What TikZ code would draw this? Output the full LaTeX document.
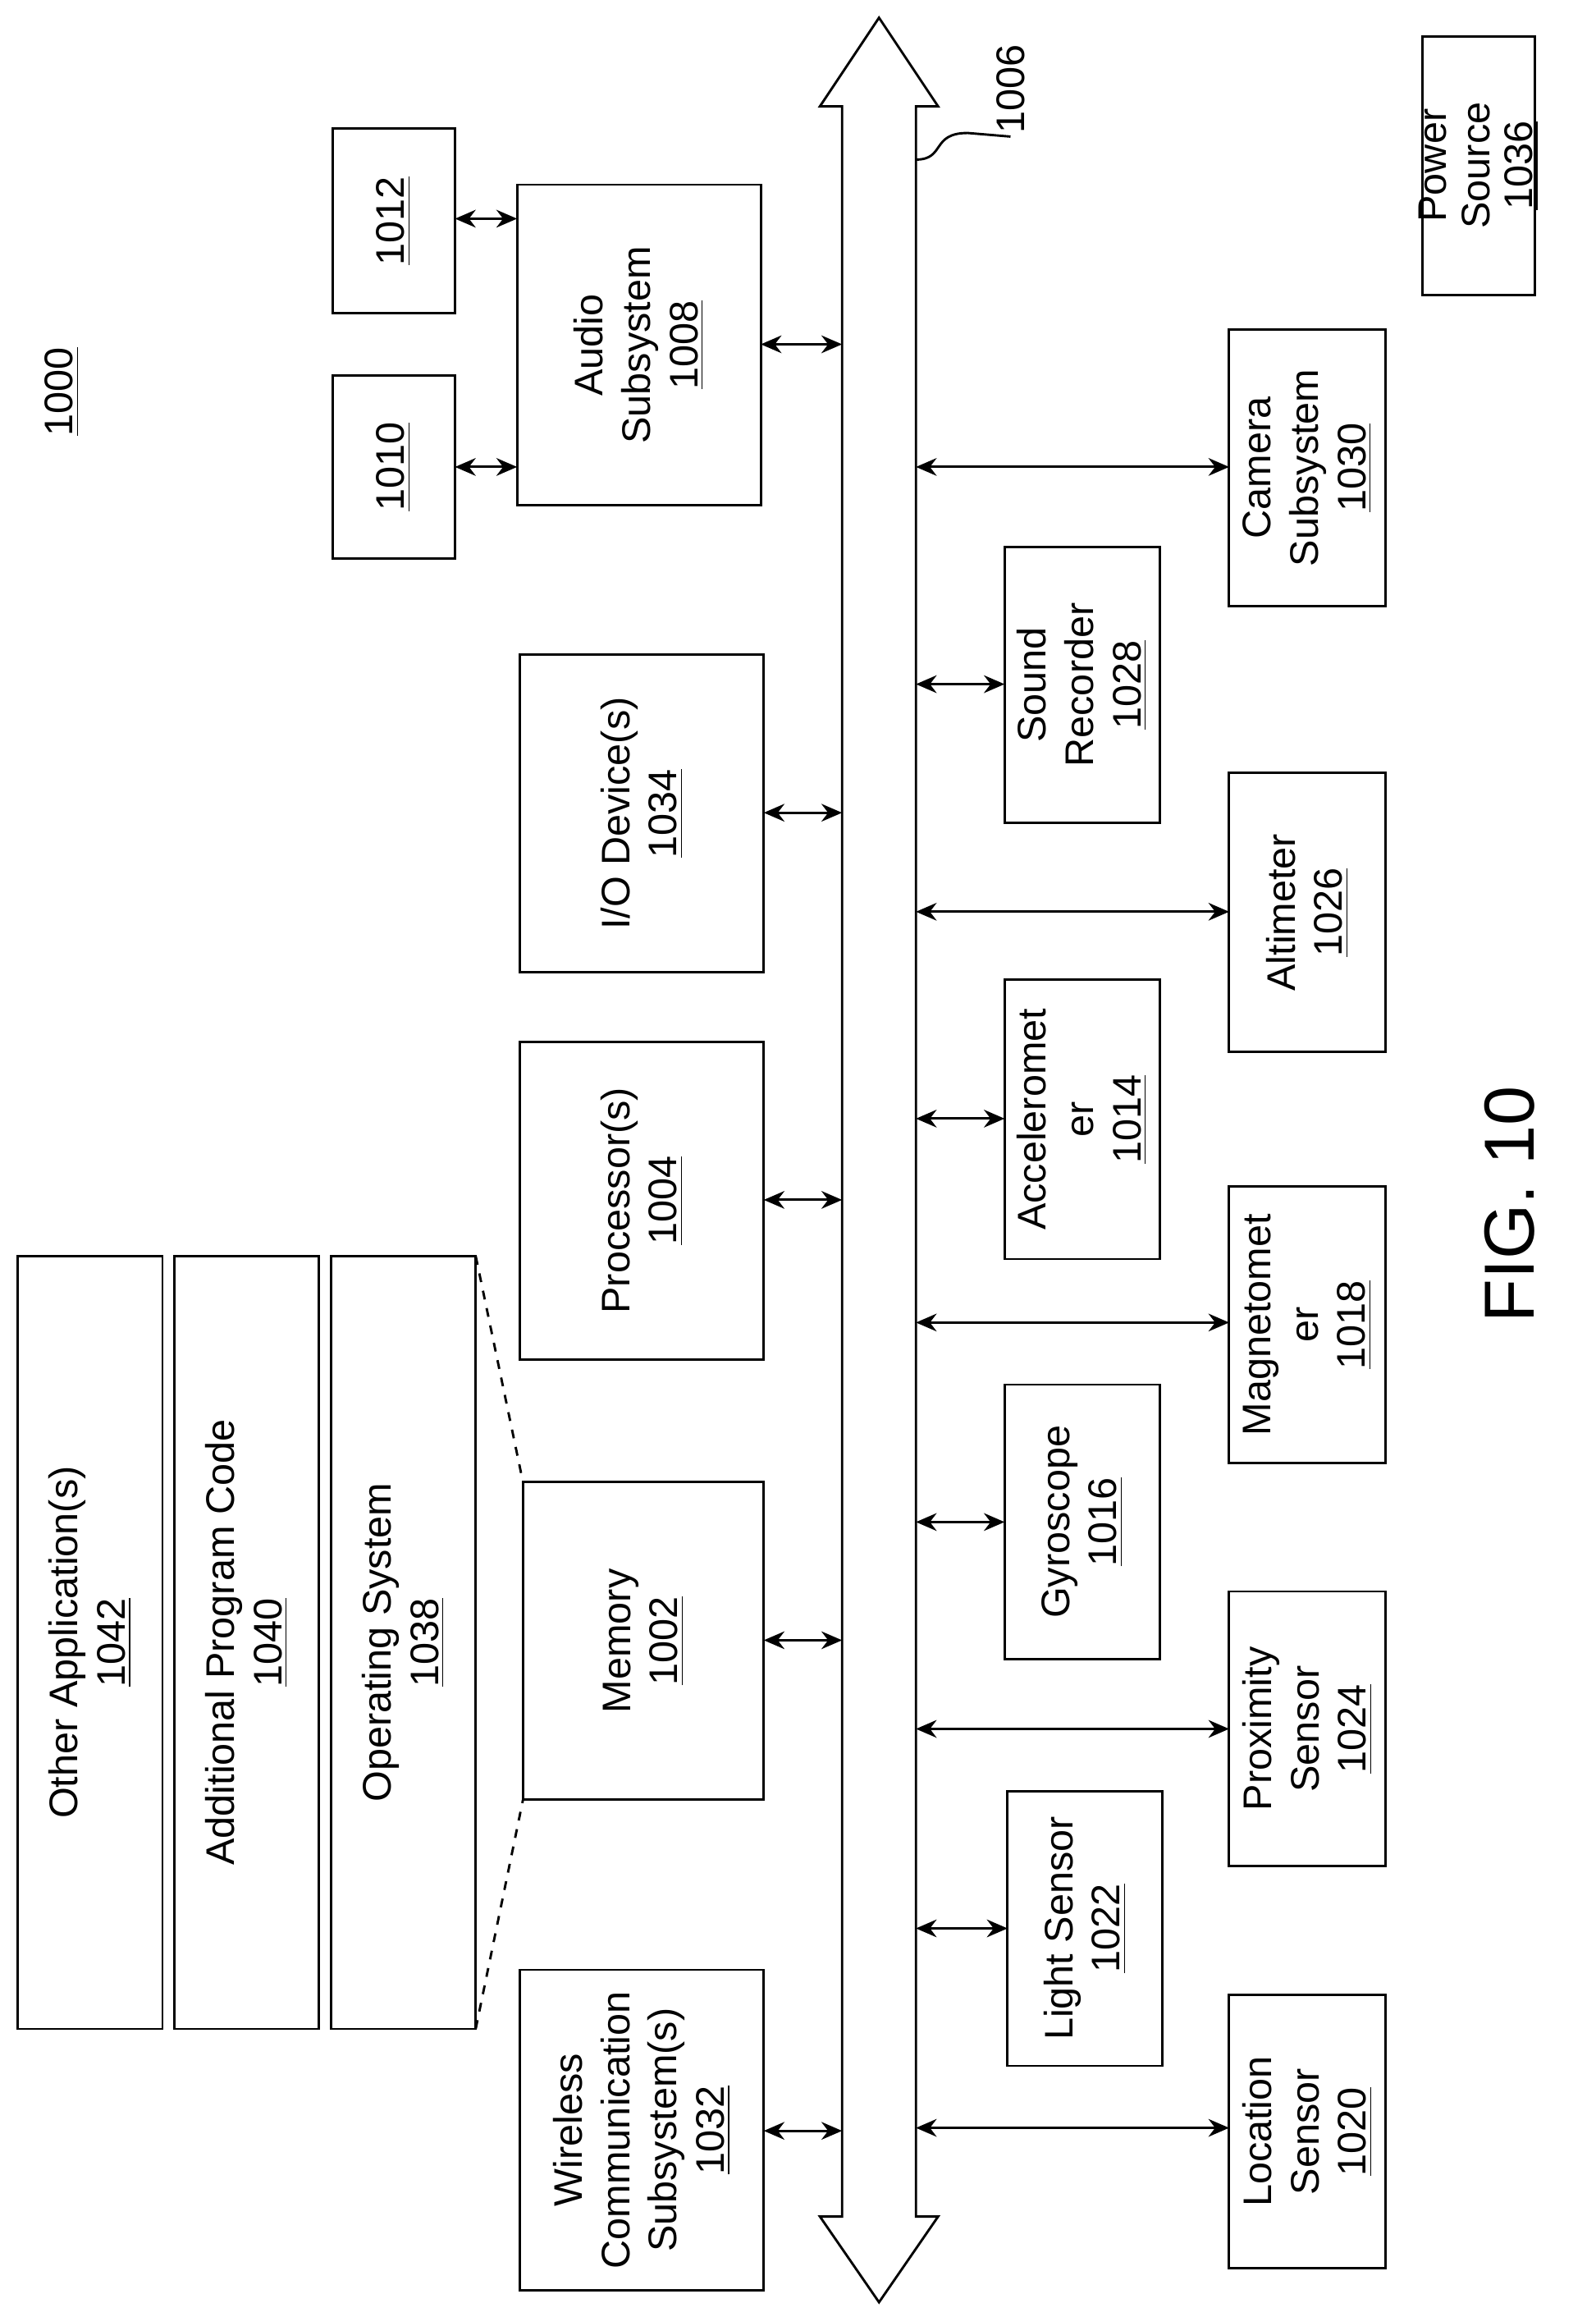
\documentclass[tikz,border=0pt]{standalone}
\usepackage{fontspec}
\setmainfont{Liberation Sans}
\usetikzlibrary{arrows.meta}
\begin{document}
\begin{tikzpicture}[x=0.5pt,y=-0.5pt,
 box/.style={draw,line width=0.8pt,inner sep=0pt,outer sep=0pt},
 lbl/.style={rotate=90,align=center,font=\fontsize{13.5}{16}\selectfont},
 con/.style={{Stealth[length=7pt,width=6pt]}-{Stealth[length=7pt,width=6pt]},line width=0.8pt}]
\useasboundingbox (0,0) rectangle (1080,1568);
\newcommand{\bx}[6]{\node[box,minimum width={(#4-#2)*0.5pt},minimum height={(#5-#3)*0.5pt}] (#1) at ({(#2+#4)/2},{(#3+#5)/2}) {}; \node[lbl] at (#1) {#6};}
% bus
\draw[line width=0.8pt,fill=white] (570,72) -- (555,72) -- (595,12) -- (635,72) -- (620,72) -- (620,1500) -- (635,1500) -- (595,1558) -- (555,1500) -- (570,1500) -- cycle;
\coordinate (bl) at (570,0); \coordinate (br) at (620,0);
\node[lbl,inner sep=1pt] (n1006) at (684,60) {1006};
\coordinate (sq) at (620,108);
\draw[line width=0.8pt] (sq) .. controls (640,108) and (630,90) .. (655,90) -- (n1006.west);
\node[lbl] (n1000) at (42,265) {\underline{1000}};
% left
\bx{aud}{350}{125}{515}{342}{Audio\\Subsystem\\\underline{1008}}
\bx{io}{352}{443}{517}{658}{I/O Device(s)\\\underline{1034}}
\bx{proc}{352}{705}{517}{920}{Processor(s)\\\underline{1004}}
\bx{mem}{354}{1003}{517}{1218}{Memory\\\underline{1002}}
\bx{wl}{352}{1333}{517}{1550}{Wireless\\Communication\\Subsystem(s)\\\underline{1032}}
\bx{b1012}{225}{87}{308}{212}{\underline{1012}}
\bx{b1010}{225}{254}{308}{378}{\underline{1010}}
\bx{oa}{12}{850}{110}{1373}{Other Application(s)\\\underline{1042}}
\bx{ap}{118}{850}{216}{1373}{Additional Program Code\\\underline{1040}}
\bx{os}{224}{850}{322}{1373}{Operating System\\\underline{1038}}
\draw[dashed,line width=0.8pt] (322,850) -- (354,1003);
\draw[dashed,line width=0.8pt] (322,1373) -- (354,1218);
\foreach \n/\y in {aud/233,io/550,proc/812,mem/1110,wl/1442}
 \draw[con] (\n.east |- 0,\y) -- (bl |- 0,\y);
\draw[con] (b1012.east |- 0,148) -- (aud.west |- 0,148);
\draw[con] (b1010.east |- 0,316) -- (aud.west |- 0,316);
% right inner
\bx{snd}{680}{370}{785}{557}{Sound\\Recorder\\\underline{1028}}
\bx{acc}{680}{663}{785}{852}{Acceleromet\\er\\\underline{1014}}
\bx{gyr}{680}{937}{785}{1123}{Gyroscope\\\underline{1016}}
\bx{ls}{682}{1212}{787}{1398}{Light Sensor\\\underline{1022}}
% right outer
\bx{cam}{832}{223}{938}{410}{Camera\\Subsystem\\\underline{1030}}
\bx{alt}{832}{523}{938}{712}{Altimeter\\\underline{1026}}
\bx{mag}{832}{803}{938}{990}{Magnetomet\\er\\\underline{1018}}
\bx{prx}{832}{1077}{938}{1263}{Proximity\\Sensor\\\underline{1024}}
\bx{loc}{832}{1350}{938}{1535}{Location\\Sensor\\\underline{1020}}
\foreach \n/\y in {snd/463,acc/757,gyr/1030,ls/1305,cam/316,alt/617,mag/895,prx/1170,loc/1440}
 \draw[con] (br |- 0,\y) -- (\n.west |- 0,\y);
\node[box,minimum width=38pt,minimum height=87.5pt] (pwr) at (1001,112) {};
\node[rotate=90,align=center,font=\fontsize{13.5}{14.5}\selectfont] at (pwr) {Power\\Source\\\underline{1036}};
\node[rotate=90,font=\fontsize{24}{28}\selectfont] (fig) at (1022,815) {FIG. 10};
\end{tikzpicture}
\end{document}
